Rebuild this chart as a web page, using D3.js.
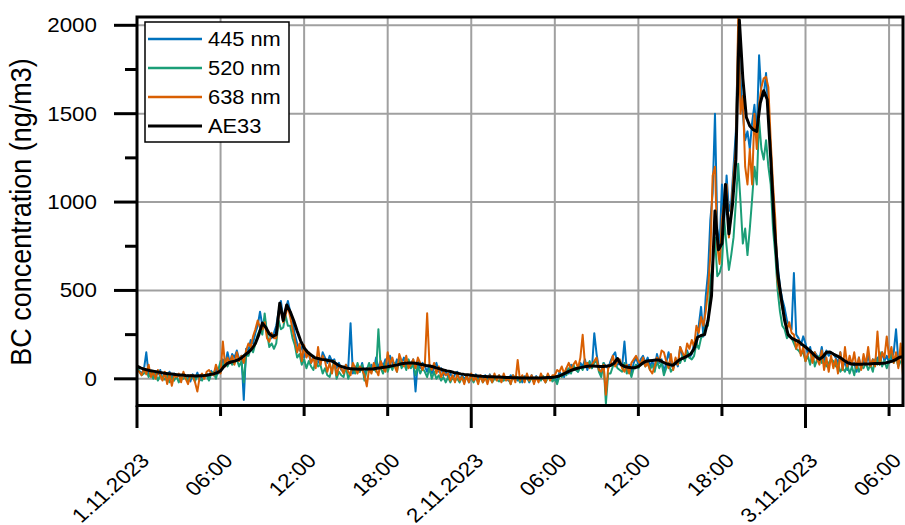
<!DOCTYPE html>
<html>
<head>
<meta charset="utf-8">
<script src="https://cdn.jsdelivr.net/npm/d3@7"></script>
<style>
  body { margin: 0; background: #fff; }
  text { font-family: "Liberation Sans", Arial, sans-serif; fill: #000; }
</style>
</head>
<body>
<div id="chart"></div>
<script>
// all series start on 1.11.2023 00:00
const startTime = new Date(2023, 10, 1, 0, 0);
const stepWavelength = 10; // minutes between samples, 445/520/638 nm
const stepAE33 = 15;       // minutes between samples, AE33

// one row = one hour (6 samples)
const bc445 = [
  60,45,30,55,150,25,  45,10,40,25,50,-5,  35,15,40,0,30,10,  25,-10,30,5,20,-15,
  25,0,35,-10,20,10,  30,-5,45,20,60,30,  60,110,80,150,90,140,  120,160,110,130,-119,170,
  160,220,200,260,300,380,  300,340,270,250,230,260,  300,380,440,340,390,440,  380,330,250,200,160,180,
  120,160,140,90,130,110,  100,80,150,120,90,130,  100,110,60,90,50,40,  80,60,315,30,70,50,
  40,90,20,60,40,80,  50,120,60,100,70,110,  60,130,90,70,110,80,  90,120,60,100,80,110,
  -72,100,60,90,70,40,  80,30,60,90,40,60,  20,40,10,30,0,25,  40,-10,20,0,15,-20,
  20,-10,25,0,15,-15,  20,-5,25,-10,15,0,  20,-15,10,5,-10,20,  0,15,-10,10,-20,15,
  10,-20,20,-5,15,-10,  20,0,-15,25,5,-10,  10,-20,40,20,10,60,  30,80,50,60,40,90,
  70,110,50,90,60,258,  140,60,30,90,70,60,  100,130,150,80,90,70,  211,50,80,30,90,120,
  80,110,130,90,120,70,  100,60,140,90,110,40,  90,150,80,60,100,70,  180,130,110,160,120,140,
  200,180,300,407,240,464,  600,900,1050,1500,850,750,  1100,900,1150,950,1000,1200,  1400,1950,1700,1500,1350,1400,
  1300,1450,1550,1380,1830,1600,  1600,1730,1500,1300,1000,800,  650,520,450,400,330,300,  280,598,250,230,190,240,
  200,140,180,110,150,130,  110,180,90,160,130,150,  140,120,90,150,60,100,  50,110,70,90,40,120,
  60,100,80,130,70,110,  90,120,80,150,100,130,  90,110,150,280,100,130,
  130
];
const bc520 = [
  70,40,20,30,50,10,  40,0,30,-10,20,10,  -5,20,-20,10,-10,15,  -20,10,0,15,-10,5,
  10,-15,20,0,-10,15,  20,-10,30,40,0,50,  100,60,110,70,100,80,  90,110,70,100,-20,130,
  130,170,150,200,250,280,  250,370,260,180,200,170,  200,330,280,290,360,300,  300,230,190,120,140,80,
  110,60,100,70,50,110,  70,80,30,60,20,10,  60,100,0,40,20,10,  70,0,40,60,30,90,
  40,80,-10,50,90,40,  60,40,281,60,30,90,  40,80,50,90,40,110,  60,90,50,110,60,80,
  20,70,30,60,40,10,  60,0,40,0,20,-10,  10,-20,10,-20,10,-10,  0,-20,10,-20,15,-10,
  5,-20,10,-15,15,-20,  5,-10,10,-20,0,-5,  -15,10,-10,5,0,-30,  20,-10,10,-20,15,-5,
  10,-15,5,-20,10,0,  -10,15,-20,5,10,-15,  0,-30,20,10,40,20,  60,30,80,50,40,70,
  50,90,70,100,60,90,  100,40,10,90,-140,30,  30,70,90,60,50,40,  90,30,60,10,60,80,
  60,90,100,70,90,50,  80,40,100,60,90,20,  60,90,40,60,110,90,  90,130,100,150,120,110,
  130,200,170,230,250,300,  300,560,650,800,580,600,  650,900,750,616,700,800,  1000,1217,1000,765,850,700,
  850,1018,1200,1100,1464,1300,  1240,1350,1200,1100,850,700,  500,380,300,280,230,250,  230,200,170,160,140,150,
  100,130,80,150,70,110,  130,90,100,70,90,110,  100,70,90,40,60,40,  80,30,70,20,90,40,
  70,60,90,50,80,40,  110,80,150,70,100,60,  100,150,90,120,70,100,
  100
];
const bc638 = [
  50,40,20,60,25,80,  10,40,0,50,20,-10,  40,-30,30,-40,20,10,  30,-20,40,0,-30,20,
  20,-20,-72,10,30,0,  40,50,30,20,80,40,  30,211,70,120,90,130,  80,150,100,130,90,160,
  200,180,240,280,330,290,  280,320,230,210,260,230,  230,350,400,320,360,410,  350,280,220,150,200,100,
  190,120,150,90,120,60,  180,80,130,100,40,90,  30,100,20,70,60,30,  80,40,20,90,60,30,
  70,50,20,-43,60,30,  90,50,20,100,60,40,  150,80,120,70,40,140,  100,70,130,60,80,110,
  60,120,90,50,80,371,  80,50,90,30,70,10,  40,20,30,-10,20,-20,  30,-10,10,-30,20,-20,
  30,-10,10,-30,20,-20,  10,-30,20,-20,30,-10,  20,-20,30,-10,10,-30,  20,-20,107,-10,20,-20,
  30,-10,20,-30,10,-20,  30,0,-20,30,-10,20,  20,50,40,70,30,60,  90,50,80,100,60,120,
  249,80,90,60,80,100,  120,50,40,80,-90,60,  80,130,70,100,110,60,  40,80,30,90,110,130,
  100,80,120,70,90,50,  30,70,120,100,160,150,  100,60,140,50,120,80,  180,150,120,200,170,220,
  180,300,260,350,300,380,  500,700,1150,1200,750,650,  900,1000,1100,800,950,1150,  1300,2040,1500,1600,1200,1100,
  1300,1100,1500,1300,1550,1650,  1700,1708,1650,1350,1100,900,  550,480,400,350,280,320,  260,250,170,220,130,180,
  100,140,160,90,150,110,  80,160,50,120,40,130,  60,110,30,150,50,180,  70,130,80,150,60,120,
  50,140,80,180,70,110,  70,267,80,150,120,240,  120,180,90,150,60,200,
  20
];
// one row = five hours (4 samples per hour)
const bcAE33 = [
  72,62,55,50,45,42,38,35,31,29,27,25,22,21,19,18,17,16,17,18,
  20,24,28,34,45,70,88,95,100,107,118,135,150,170,200,250,315,290,255,240,
  250,428,330,418,380,330,270,215,175,150,135,120,115,110,108,104,100,88,75,68,
  62,58,55,55,54,55,56,55,57,60,62,65,68,72,76,80,85,88,90,90,
  88,84,80,75,72,68,62,56,50,45,41,36,32,28,25,23,20,18,16,14,
  13,12,11,10,10,9,8,7,6,6,5,5,4,4,4,5,5,6,7,8,
  10,14,22,32,42,50,57,62,66,70,72,72,71,70,70,72,75,88,115,80,
  70,65,62,62,70,85,98,102,104,106,106,95,85,80,77,95,110,118,128,140,
  170,235,245,250,330,470,950,730,765,1100,820,980,1240,2030,1700,1480,1430,1410,1400,1560,
  1630,1580,1250,880,600,460,330,250,230,220,211,195,180,164,145,125,111,125,150,152,
  140,130,120,105,92,85,83,82,83,84,84,85,86,87,88,90,95,100,110,122,125
];

const seriesNames = ['445 nm', '520 nm', '638 nm', 'AE33'];
const seriesColors = ['#0072bd', '#1b9e77', '#d95f02', '#000000'];
const yMajorTicks = [0, 500, 1000, 1500, 2000];
const yMinorTicks = [250, 750, 1250, 1750];

const chart = (function () {
    const width = 905, height = 525;
    const left = 137, right = 903, top = 17, bottom = 405.5;
    const sx = 1.12; // the source picture is a little wider than tall

    const svg = d3.select('#chart').append('svg')
        .attr('width', width)
        .attr('height', height);

    const x = d3.scaleTime()
        .domain([startTime, d3.timeHour.offset(startTime, 55)])
        .range([left, right]);
    const y = d3.scaleLinear()
        .domain([-151, 2047])
        .range([bottom, top]);

    const xTicks = d3.timeHour.every(6).range(startTime, d3.timeHour.offset(startTime, 55));
    const isMidnight = d => d.getHours() === 0;
    const fmt = d => isMidnight(d) ? d3.timeFormat('%-d.%-m.%Y')(d) : d3.timeFormat('%H:%M')(d);

    // grid
    svg.append('g').selectAll('line').data(xTicks).join('line')
        .attr('x1', d => x(d)).attr('x2', d => x(d))
        .attr('y1', top).attr('y2', bottom)
        .attr('stroke', '#a0a0a0').attr('stroke-width', 2);
    svg.append('g').selectAll('line').data(yMajorTicks).join('line')
        .attr('x1', left).attr('x2', right)
        .attr('y1', d => y(d)).attr('y2', d => y(d))
        .attr('stroke', '#a0a0a0').attr('stroke-width', 2);

    // series
    svg.append('clipPath').attr('id', 'clip')
      .append('rect').attr('x', left).attr('y', top)
        .attr('width', right - left).attr('height', bottom - top);

    const allSeries = [
        { values: bc445, step: stepWavelength },
        { values: bc520, step: stepWavelength },
        { values: bc638, step: stepWavelength },
        { values: bcAE33, step: stepAE33 }
    ];

    svg.append('g').attr('clip-path', 'url(#clip)')
      .selectAll('path').data(allSeries).join('path')
        .attr('d', s => d3.line()
            .x((d, i) => x(d3.timeMinute.offset(startTime, i * s.step)))
            .y(d => y(d))(s.values))
        .attr('fill', 'none')
        .attr('stroke', (d, i) => seriesColors[i])
        .attr('stroke-width', (d, i) => i === 3 ? 3 : 2)
        .attr('stroke-linejoin', 'round');

    // frame
    svg.append('rect')
        .attr('x', left).attr('y', top)
        .attr('width', right - left).attr('height', bottom - top)
        .attr('fill', 'none').attr('stroke', '#000').attr('stroke-width', 3);

    // y axis ticks + labels
    svg.append('g').selectAll('line').data(yMajorTicks).join('line')
        .attr('x1', left - 23).attr('x2', left)
        .attr('y1', d => y(d)).attr('y2', d => y(d))
        .attr('stroke', '#000').attr('stroke-width', 3);
    svg.append('g').selectAll('line').data(yMinorTicks).join('line')
        .attr('x1', left - 12).attr('x2', left)
        .attr('y1', d => y(d)).attr('y2', d => y(d))
        .attr('stroke', '#000').attr('stroke-width', 3);
    svg.append('g').selectAll('text').data(yMajorTicks).join('text')
        .attr('transform', d => `translate(97,${y(d)}) scale(${sx},1)`)
        .attr('dy', '0.35em')
        .attr('text-anchor', 'end')
        .style('font-size', '20px')
        .text(d => d);

    // x axis ticks + labels
    svg.append('g').selectAll('line').data(xTicks).join('line')
        .attr('x1', d => x(d)).attr('x2', d => x(d))
        .attr('y1', bottom).attr('y2', d => isMidnight(d) ? 428 : 416)
        .attr('stroke', '#000').attr('stroke-width', 3);
    svg.append('g').selectAll('text').data(xTicks).join('text')
        .attr('transform', d => `translate(${x(d) + 8},457) scale(${sx},1) rotate(-45)`)
        .attr('dy', '0.35em')
        .attr('text-anchor', 'end')
        .style('font-size', '20px')
        .text(fmt);

    // y title
    svg.append('text')
        .attr('transform', `translate(31,${(57 + 367) / 2}) scale(${sx},1) rotate(-90)`)
        .attr('text-anchor', 'middle')
        .style('font-size', '27px')
        .text('BC concentration (ng/m3)');

    // legend
    const legend = svg.append('g');
    legend.append('rect')
        .attr('x', 145).attr('y', 22).attr('width', 144).attr('height', 120)
        .attr('fill', '#fff').attr('stroke', '#000').attr('stroke-width', 1.5);
    const rows = legend.selectAll('g.row').data(seriesNames).join('g')
        .attr('class', 'row')
        .attr('transform', (d, i) => `translate(0,${39 + i * 29})`);
    rows.append('line')
        .attr('x1', 148).attr('x2', 202)
        .attr('stroke', (d, i) => seriesColors[i])
        .attr('stroke-width', (d, i) => i === 3 ? 3 : 2.5);
    rows.append('text')
        .attr('transform', `translate(208,0) scale(${sx},1)`)
        .attr('dy', '0.36em')
        .style('font-size', '19.5px')
        .text(d => d);

    return svg;
})();
</script>
</body>
</html>
